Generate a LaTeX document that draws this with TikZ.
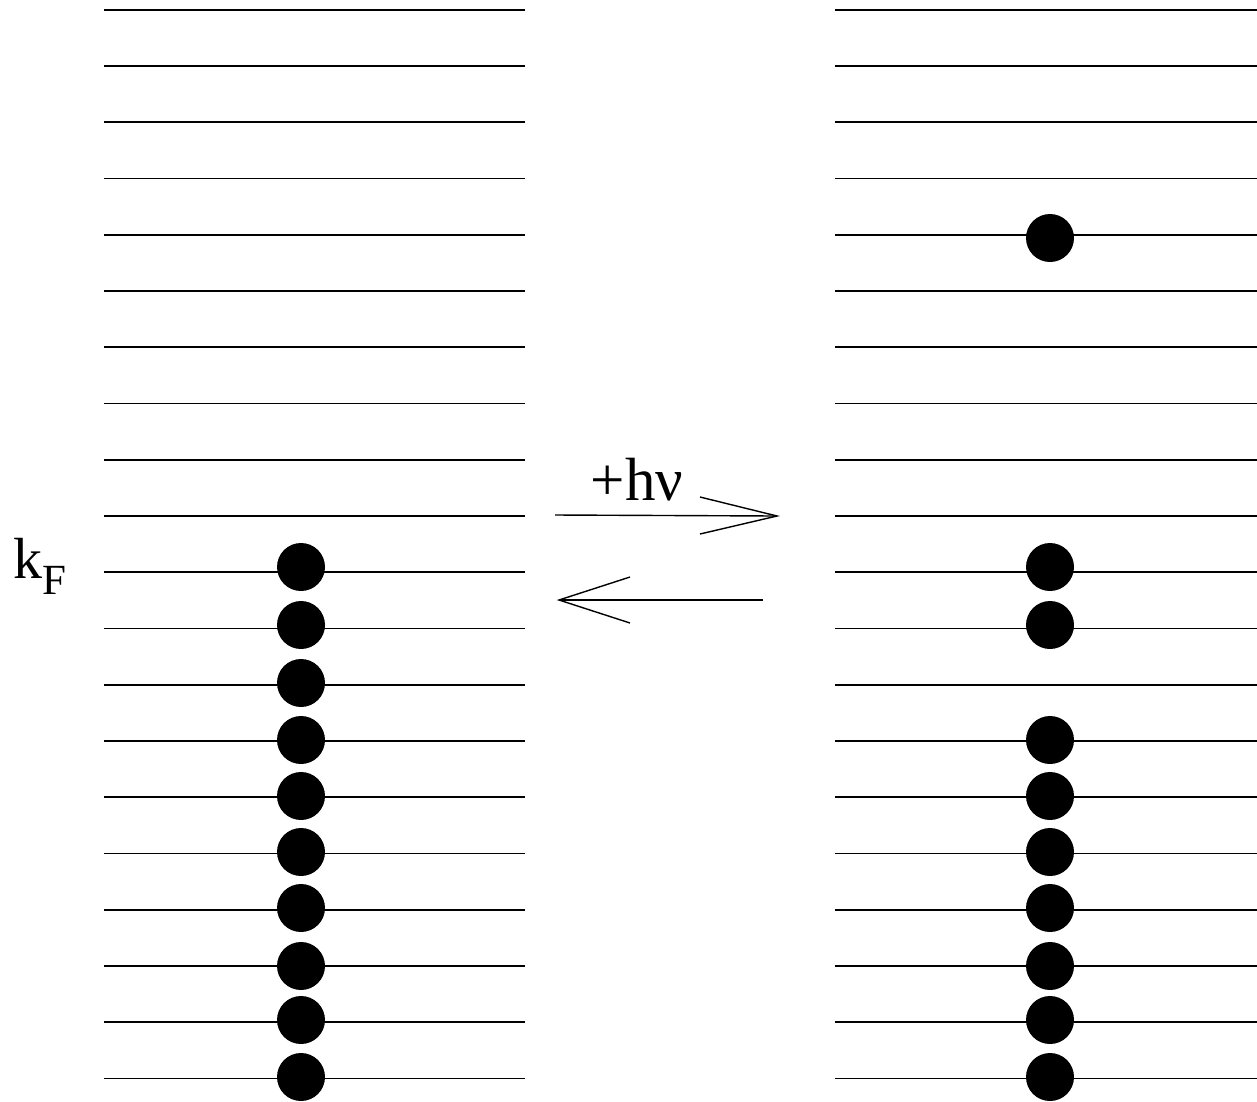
\documentclass[tikz,border=0pt]{standalone}
\usepackage{fontspec}
\setmainfont{Liberation Serif}
\tikzset{
  level/.style={line width=1.6pt},
  dot/.style={circle,fill=black,inner sep=0pt,minimum size=48pt},
  arr/.style={line width=1.4pt},
  lbl/.style={inner sep=0pt,anchor=base}
}
\begin{document}
\begin{tikzpicture}[x=1pt,y=-1pt]
\useasboundingbox (0,0) rectangle (1257,1101);
% energy levels
\foreach \i in {0,...,19}{
  \pgfmathsetmacro{\yy}{9.7+\i*56.25}
  \draw[level] (104,\yy) -- (525,\yy);
  \draw[level] (835,\yy) -- (1257,\yy);
}
% left electrons
\foreach \yy/\n in {567/a,625/b,683/c,740/d,796/e,852/f,908/g,966/h,1020/i,1077/j}{
  \node[dot] (L\n) at (301,\yy) {};
}
% right electrons
\foreach \yy/\n in {238/a,567/b,625/c,740/d,796/e,852/f,908/g,966/h,1020/i,1077/j}{
  \node[dot] (R\n) at (1050,\yy) {};
}
% arrows
\coordinate (t1) at (555,515);
\coordinate (t2) at (777,516);
\coordinate (t3) at (700,497);
\coordinate (t4) at (700,534);
\draw[arr] (t1) -- (t2);
\draw[arr] (t3) -- (t2) -- (t4);
\coordinate (b1) at (763,600);
\coordinate (b2) at (559,600);
\coordinate (b3) at (630,577);
\coordinate (b4) at (630,623);
\draw[arr] (b1) -- (b2);
\draw[arr] (b3) -- (b2) -- (b4);
% labels
\node[lbl] (hv) at (637,500) {\fontsize{61}{70}\selectfont +hν};
\node[lbl,anchor=base west] (kF) at (13,578) {\fontsize{58}{66}\selectfont k\raisebox{-16pt}{\fontsize{43}{48}\selectfont F}};
\end{tikzpicture}
\end{document}
